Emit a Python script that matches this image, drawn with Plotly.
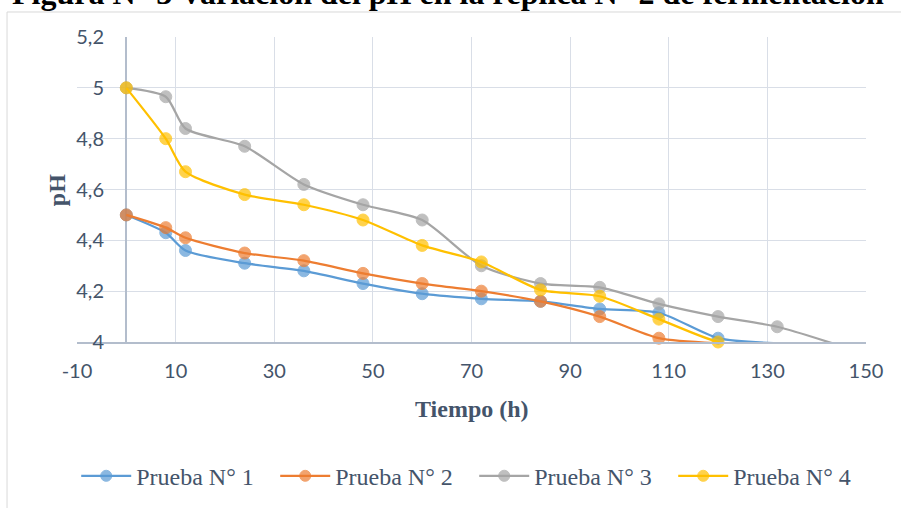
import plotly.graph_objects as go

tiempo = [0, 8, 12, 24, 36, 48, 60, 72, 84, 96, 108, 120, 132, 144]

prueba1 = [4.50, 4.43, 4.36, 4.31, 4.28, 4.23, 4.19, 4.17, 4.16, 4.13, 4.115, 4.015, 3.995]
prueba2 = [4.50, 4.45, 4.41, 4.35, 4.32, 4.27, 4.23, 4.20, 4.16, 4.10, 4.015, 3.995]
prueba3 = [5.00, 4.965, 4.84, 4.77, 4.62, 4.54, 4.48, 4.30, 4.23, 4.215, 4.15, 4.10, 4.06, 3.99]
prueba4 = [5.00, 4.80, 4.67, 4.58, 4.54, 4.48, 4.38, 4.315, 4.205, 4.18, 4.09, 4.00, 3.97]

series = [
    ("Prueba N° 1", prueba1, "#5B9BD5"),
    ("Prueba N° 2", prueba2, "#ED7D31"),
    ("Prueba N° 3", prueba3, "#A5A5A5"),
    ("Prueba N° 4", prueba4, "#FFC000"),
]

x_ticks = list(range(-10, 151, 20))
y_ticks = [4, 4.2, 4.4, 4.6, 4.8, 5, 5.2]
y_ticktext = ["4", "4,2", "4,4", "4,6", "4,8", "5", "5,2"]

Y_MIN = 4.0

fig = go.Figure()
for name, vals, color in series:
    sizes = [12 if v >= Y_MIN else 0 for v in vals]
    fig.add_trace(go.Scatter(
        x=tiempo[:len(vals)], y=vals, name=name, mode="lines+markers",
        line=dict(color=color, width=2.25, shape="spline", smoothing=0.7),
        marker=dict(color=color, size=sizes, line=dict(color=color, width=1)),
        cliponaxis=False,
    ))

tick_font = dict(family="Lato, Open Sans, sans-serif", size=20, color="#44546A")
serif = "Liberation Serif, Times New Roman, serif"

fig.update_layout(
    width=901, height=508,
    margin=dict(l=77, r=35, t=37, b=166, autoexpand=False),
    paper_bgcolor="white", plot_bgcolor="white",
    showlegend=True,
    legend=dict(orientation="h", x=-0.001, xanchor="left", y=-0.44, yanchor="middle",
                font=dict(family=serif, size=24, color="#44546A"),
                entrywidth=134, entrywidthmode="pixels", itemwidth=50),
    xaxis=dict(range=[-10, 150], tickvals=x_ticks, ticktext=[str(v) for v in x_ticks],
               showgrid=True, gridcolor="#D9DEE7", gridwidth=1.3,
               zeroline=True, zerolinecolor="#B3BDCC", zerolinewidth=1.8,
               showline=True, linecolor="#B3BDCC", linewidth=1.8,
               ticks="", tickfont=tick_font, ticklabelstandoff=10),
    yaxis=dict(range=[4, 5.2], tickvals=y_ticks, ticktext=y_ticktext,
               showgrid=True, gridcolor="#D9DEE7", gridwidth=1.3,
               zeroline=False, showline=False,
               ticks="", tickfont=tick_font, ticklabelstandoff=-28),
    shapes=[dict(type="rect", xref="paper", yref="paper",
                 x0=-0.0887, x1=1.3, y0=-0.8, y1=1.082,
                 line=dict(color="#D9D9D9", width=1), layer="below")],
    annotations=[
        dict(text="<b>Tiempo (h)</b>", xref="paper", yref="paper", x=0.5, y=-0.221,
             xanchor="center", yanchor="middle", showarrow=False,
             font=dict(family=serif, size=24, color="#44546A")),
        dict(text="<b>pH</b>", xref="paper", yref="paper", x=-0.0253, y=0.498,
             xanchor="center", yanchor="middle", showarrow=False, textangle=-90,
             font=dict(family=serif, size=24, color="#44546A")),
        dict(text="<b>Figura N° 3 Variación del pH en la réplica N° 2 de fermentación</b>",
             xref="paper", yref="paper", x=-0.085, y=1.0787, xanchor="left", yanchor="bottom",
             showarrow=False, font=dict(family=serif, size=32, color="black")),
    ],
)

fig.write_html("out.html")
